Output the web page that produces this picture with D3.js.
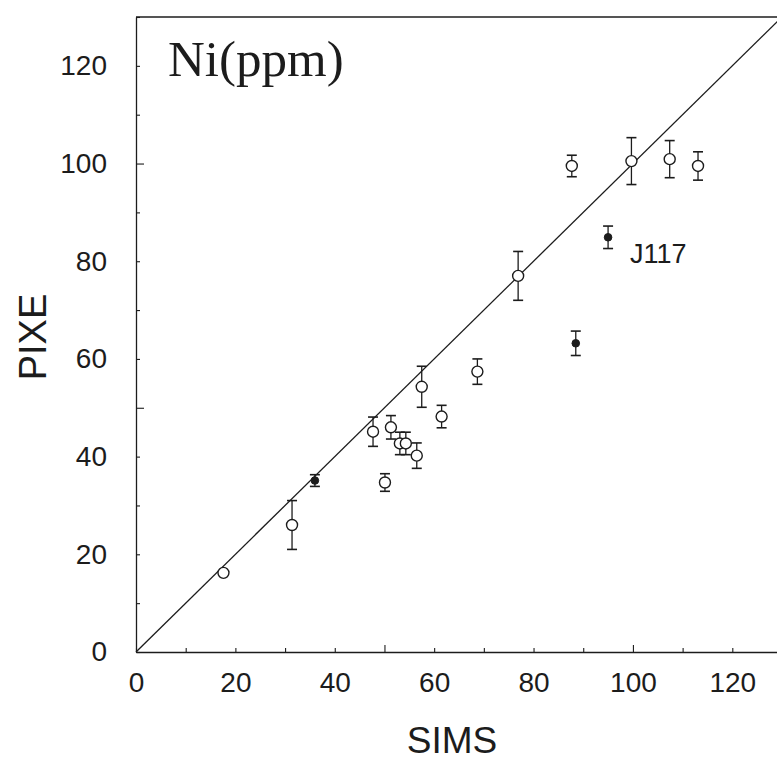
<!DOCTYPE html>
<html>
<head>
<meta charset="utf-8">
<script src="https://cdn.jsdelivr.net/npm/d3@7"></script>
<style>
  html, body { margin: 0; padding: 0; background: #fff; }
  svg { display: block; }
</style>
</head>
<body>
<script>
// ---- data ----
const openSims  = [17.6, 31.4, 47.7, 50.1, 51.3, 53.1, 54.3, 56.5, 57.5, 61.5, 68.7, 76.9, 87.7, 99.7, 107.4, 113.1];
const openPixe  = [16.2, 26.0, 45.1, 34.7, 46.0, 42.7, 42.7, 40.2, 54.3, 48.2, 57.4, 77.0, 99.5, 100.5, 100.9, 99.5];
const openErr   = [0,    5.0,  3.0,  1.8,  2.4,  2.3,  2.3,  2.6,  4.2,  2.3,  2.6,  5.0,  2.2,  4.8,  3.8,  2.9];
const filledSims = [36.0, 95.0, 88.5];
const filledPixe = [35.1, 84.9, 63.2];
const filledErr  = [1.2,  2.3,  2.5];
const filledLabels = ["", "J117", ""];
const xTicks = [0, 10, 20, 30, 40, 50, 60, 70, 80, 90, 100, 110, 120, 130];
const yTicks = [0, 10, 20, 30, 40, 50, 60, 70, 80, 90, 100, 110, 120, 130];
const labelledTicks = [0, 20, 40, 60, 80, 100, 120];
const majorTicks = [50, 100];
const xDomain = [0, 130];
const yDomain = [0, 130];
const title = "Ni(ppm)";
const xTitle = "SIMS";
const yTitle = "PIXE";

// ---- drawing ----
const W = 777, H = 761;
const ink = "#1c1c1c";
const svg = d3.select("body").append("svg").attr("width", W).attr("height", H);

const x = d3.scaleLinear().domain(xDomain).range([136, 782]);
const y = d3.scaleLinear().domain(yDomain).range([652, 17]);

const open = openSims.map((s, i) => ({x: s, y: openPixe[i], e: openErr[i]}));
const filled = filledSims.map((s, i) => ({x: s, y: filledPixe[i], e: filledErr[i], label: filledLabels[i]}));

// frame top line
svg.append("line").attr("x1", x(0)).attr("x2", W).attr("y1", y(130)).attr("y2", y(130))
  .attr("stroke", ink).attr("stroke-width", 1.3);

// axes
const fmt = d => labelledTicks.includes(d) ? String(d) : "";
const xAxis = d3.axisBottom(x).tickValues(xTicks).tickSizeInner(-4).tickSizeOuter(0).tickPadding(20).tickFormat(fmt);
const yAxis = d3.axisLeft(y).tickValues(yTicks).tickSizeInner(-4).tickSizeOuter(0).tickPadding(29).tickFormat(fmt);

const gx = svg.append("g").attr("transform", `translate(0,${y(0)})`).call(xAxis);
const gy = svg.append("g").attr("transform", `translate(${x(0)},0)`).call(yAxis);
[gx, gy].forEach(g => {
  g.select(".domain").attr("stroke", ink).attr("stroke-width", 1.3);
  g.selectAll(".tick line").attr("stroke", ink).attr("stroke-width", 1.1);
  g.selectAll(".tick text").attr("fill", ink)
    .style("font-family", "'Liberation Sans', Arial, Helvetica, sans-serif")
    .style("font-size", "28px");
});
gx.selectAll(".tick line").filter(d => majorTicks.includes(d)).attr("y2", -7);
gy.selectAll(".tick line").filter(d => majorTicks.includes(d)).attr("x2", 8);

// 1:1 line
svg.append("line")
  .attr("x1", x(0)).attr("y1", y(0)).attr("x2", x(130)).attr("y2", y(130))
  .attr("stroke", ink).attr("stroke-width", 1.3);

// error bars
function errorBars(data, cls) {
  const g = svg.append("g").attr("class", cls);
  const d0 = data.filter(d => d.e > 0);
  g.selectAll("line.v").data(d0).join("line").attr("class", "v")
    .attr("x1", d => x(d.x)).attr("x2", d => x(d.x))
    .attr("y1", d => y(d.y + d.e)).attr("y2", d => y(d.y - d.e))
    .attr("stroke", ink).attr("stroke-width", 1.3);
  ["top", "bot"].forEach(k => {
    g.selectAll("line." + k).data(d0).join("line").attr("class", k)
      .attr("x1", d => x(d.x) - 5).attr("x2", d => x(d.x) + 5)
      .attr("y1", d => y(k === "top" ? d.y + d.e : d.y - d.e))
      .attr("y2", d => y(k === "top" ? d.y + d.e : d.y - d.e))
      .attr("stroke", ink).attr("stroke-width", 1.6);
  });
}
errorBars(open, "err-open");
errorBars(filled, "err-filled");

// markers
svg.append("g").selectAll("circle").data(open).join("circle")
  .attr("cx", d => x(d.x)).attr("cy", d => y(d.y)).attr("r", 5.5)
  .attr("fill", "#fff").attr("stroke", ink).attr("stroke-width", 1.4);
svg.append("g").selectAll("circle").data(filled).join("circle")
  .attr("cx", d => x(d.x)).attr("cy", d => y(d.y)).attr("r", 3.8)
  .attr("fill", ink).attr("stroke", ink).attr("stroke-width", 1);

// point labels
svg.append("g").selectAll("text").data(filled.filter(d => d.label)).join("text")
  .attr("x", d => x(d.x) + 22).attr("y", d => y(d.y) + 26)
  .attr("fill", ink)
  .style("font-family", "'Liberation Sans', Arial, Helvetica, sans-serif")
  .style("font-size", "27px")
  .text(d => d.label);

// title inside plot
svg.append("text").attr("x", 168).attr("y", 76)
  .attr("fill", ink)
  .style("font-family", "'Liberation Serif', 'Times New Roman', serif")
  .style("font-size", "51px")
  .text(title);

// axis titles
svg.append("text").attr("x", 452).attr("y", 753).attr("text-anchor", "middle")
  .attr("fill", ink)
  .style("font-family", "'Liberation Sans', Arial, Helvetica, sans-serif")
  .style("font-size", "37px")
  .text(xTitle);
svg.append("text").attr("transform", "translate(46,337) rotate(-90)").attr("text-anchor", "middle")
  .attr("fill", ink)
  .style("font-family", "'Liberation Sans', Arial, Helvetica, sans-serif")
  .style("font-size", "38px")
  .text(yTitle);
</script>
</body>
</html>
